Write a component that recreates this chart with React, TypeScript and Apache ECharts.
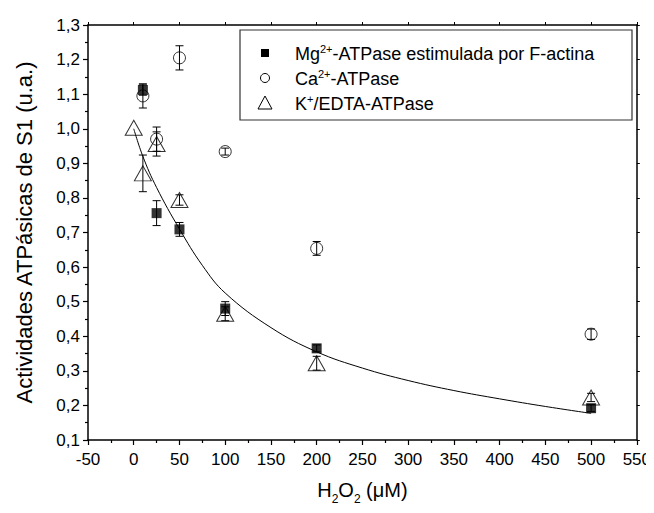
import React, { useEffect, useRef } from "react";
import * as echarts from "echarts";

const mgX = [10, 25, 50, 100, 200, 500];
const mgY = [1.112, 0.756, 0.709, 0.48, 0.365, 0.192];
const mgErr = [0.015, 0.036, 0.02, 0.02, 0.01, 0.01];

const caX = [10, 25, 50, 100, 200, 500];
const caY = [1.095, 0.97, 1.205, 0.934, 0.654, 0.406];
const caErr = [0.035, 0.035, 0.035, 0.01, 0.02, 0.015];

const kX = [0, 10, 25, 50, 100, 200, 500];
const kY = [1.003, 0.871, 0.956, 0.794, 0.465, 0.322, 0.223];
const kErr = [0, 0.053, 0.035, 0.015, 0.02, 0.02, 0.012];

const fitX = [0, 10, 25, 50, 75, 100, 150, 200, 250, 300, 350, 400, 450, 500];
const fitY = [1.0, 0.92, 0.83, 0.71, 0.605, 0.525, 0.425, 0.355, 0.308, 0.272, 0.243, 0.219, 0.197, 0.177];

const FONT = "Liberation Sans, Arial, sans-serif";

const zip = (xs: number[], ys: number[]) => xs.map((x, i) => [x, ys[i]]);
const zip3 = (xs: number[], ys: number[], es: number[]) => xs.map((x, i) => [x, ys[i], es[i]]);

const errRender = (params: any, api: any) => {
  const x = api.value(0);
  const y = api.value(1);
  const e = api.value(2);
  if (!e) return { type: "group", children: [] };
  const top = api.coord([x, y + e]);
  const bot = api.coord([x, y - e]);
  const hw = 4;
  const st = { stroke: "#000", lineWidth: 1 };
  return {
    type: "group",
    children: [
      { type: "line", shape: { x1: top[0], y1: top[1], x2: bot[0], y2: bot[1] }, style: st },
      { type: "line", shape: { x1: top[0] - hw, y1: top[1], x2: top[0] + hw, y2: top[1] }, style: st },
      { type: "line", shape: { x1: bot[0] - hw, y1: bot[1], x2: bot[0] + hw, y2: bot[1] }, style: st },
    ],
  };
};

export default function App() {
  const ref = useRef<HTMLDivElement>(null);
  useEffect(() => {
    if (!ref.current) return;
    const chart = echarts.init(ref.current, undefined, { renderer: "svg" });
    const axisLine = { show: true, onZero: false, lineStyle: { color: "#000", width: 1.5 } };
    const legendRows = [
      { y: 53, text: "{n|Mg}{s|2+}{n|-ATPase estimulada por F-actina}" },
      { y: 78, text: "{n|Ca}{s|2+}{n|-ATPase}" },
      { y: 103, text: "{n|K}{s|+}{n|/EDTA-ATPase}" },
    ];
    const rich = {
      n: { fontSize: 18, fontFamily: FONT, color: "#000", verticalAlign: "bottom" },
      s: { fontSize: 11, fontFamily: FONT, color: "#000", verticalAlign: "bottom", padding: [0, 0, 8, 0] },
    };
    chart.setOption({
      animation: false,
      backgroundColor: "#fff",
      grid: { left: 88, right: 16, top: 25, bottom: 73 },
      xAxis: [
        {
          type: "value",
          min: -50,
          max: 550,
          interval: 50,
          axisLine,
          axisTick: { show: true, length: 5, lineStyle: { color: "#000", width: 1.2 } },
          minorTick: { show: true, splitNumber: 2, length: 3, lineStyle: { color: "#000", width: 1.2 } },
          splitLine: { show: false },
          axisLabel: { color: "#000", fontSize: 17, fontFamily: FONT, margin: 11 },
          name: "{n|H}{b|2}{n|O}{b|2}{n| (μM)}",
          nameLocation: "middle",
          nameGap: 40,
          nameTextStyle: {
            rich: {
              n: { fontSize: 20, fontFamily: FONT, color: "#000", verticalAlign: "bottom", padding: [0, 0, 5, 0] },
              b: { fontSize: 12, fontFamily: FONT, color: "#000", verticalAlign: "bottom" },
            },
          },
        },
        {
          type: "value",
          position: "top",
          min: -50,
          max: 550,
          interval: 50,
          axisLine,
          axisTick: { show: true, length: 3, lineStyle: { color: "#000" } },
          minorTick: { show: false },
          splitLine: { show: false },
          axisLabel: { show: false },
        },
      ],
      yAxis: [
        {
          type: "value",
          min: 0.1,
          max: 1.3,
          interval: 0.1,
          axisLine,
          axisTick: { show: true, length: 5, lineStyle: { color: "#000", width: 1.2 } },
          minorTick: { show: true, splitNumber: 2, length: 3, lineStyle: { color: "#000", width: 1.2 } },
          splitLine: { show: false },
          axisLabel: {
            color: "#000",
            fontSize: 17,
            fontFamily: FONT,
            margin: 8,
            formatter: (v: number) => v.toFixed(1).replace(".", ","),
          },
          name: "Actividades ATPásicas de S1 (u.a.)",
          nameLocation: "middle",
          nameGap: 53,
          nameTextStyle: { fontSize: 22, fontFamily: FONT, color: "#000" },
        },
        {
          type: "value",
          position: "right",
          min: 0.1,
          max: 1.3,
          interval: 0.1,
          axisLine,
          axisTick: { show: true, length: 3, lineStyle: { color: "#000" } },
          minorTick: { show: false },
          splitLine: { show: false },
          axisLabel: { show: false },
        },
      ],
      graphic: [
        {
          type: "rect",
          shape: { x: 240, y: 30, width: 392, height: 90 },
          style: { fill: "#fff", stroke: "#333", lineWidth: 1.2 },
          z: 10,
        },
        { type: "rect", shape: { x: 261, y: 49, width: 8, height: 8 }, style: { fill: "#000" }, z: 11 },
        { type: "circle", shape: { cx: 265, cy: 78, r: 4.5 }, style: { fill: "#fff", stroke: "#000", lineWidth: 1 }, z: 11 },
        {
          type: "polygon",
          shape: { points: [[265, 96], [272, 109], [258, 109]] },
          style: { fill: "#fff", stroke: "#000", lineWidth: 1 },
          z: 11,
        },
        ...legendRows.map((r) => ({
          type: "text",
          x: 295,
          y: r.y,
          z: 11,
          style: { text: r.text, rich, verticalAlign: "middle", align: "left" },
        })),
      ],
      series: [
        {
          type: "line",
          data: zip(fitX, fitY),
          smooth: 0.4,
          showSymbol: false,
          symbol: "none",
          lineStyle: { color: "#000", width: 1 },
          z: 1,
        },
        { type: "custom", renderItem: errRender, data: zip3(mgX, mgY, mgErr), z: 2 },
        { type: "custom", renderItem: errRender, data: zip3(caX, caY, caErr), z: 2 },
        { type: "custom", renderItem: errRender, data: zip3(kX, kY, kErr), z: 2 },
        {
          name: "Mg2+-ATPase estimulada por F-actina",
          type: "scatter",
          data: zip(mgX, mgY),
          symbol: "rect",
          symbolSize: 10,
          itemStyle: { color: "#000" },
          z: 3,
        },
        {
          name: "Ca2+-ATPase",
          type: "scatter",
          data: zip(caX, caY),
          symbol: "circle",
          symbolSize: 12,
          itemStyle: { color: "rgba(255,255,255,0)", borderColor: "#000", borderWidth: 1 },
          z: 4,
        },
        {
          name: "K+/EDTA-ATPase",
          type: "scatter",
          data: zip(kX, kY),
          symbol: "triangle",
          symbolSize: [17, 15],
          itemStyle: { color: "rgba(255,255,255,0)", borderColor: "#000", borderWidth: 1 },
          z: 5,
        },
      ],
    });
    return () => chart.dispose();
  }, []);
  return <div ref={ref} style={{ width: 654, height: 513, margin: -8 }} />;
}
